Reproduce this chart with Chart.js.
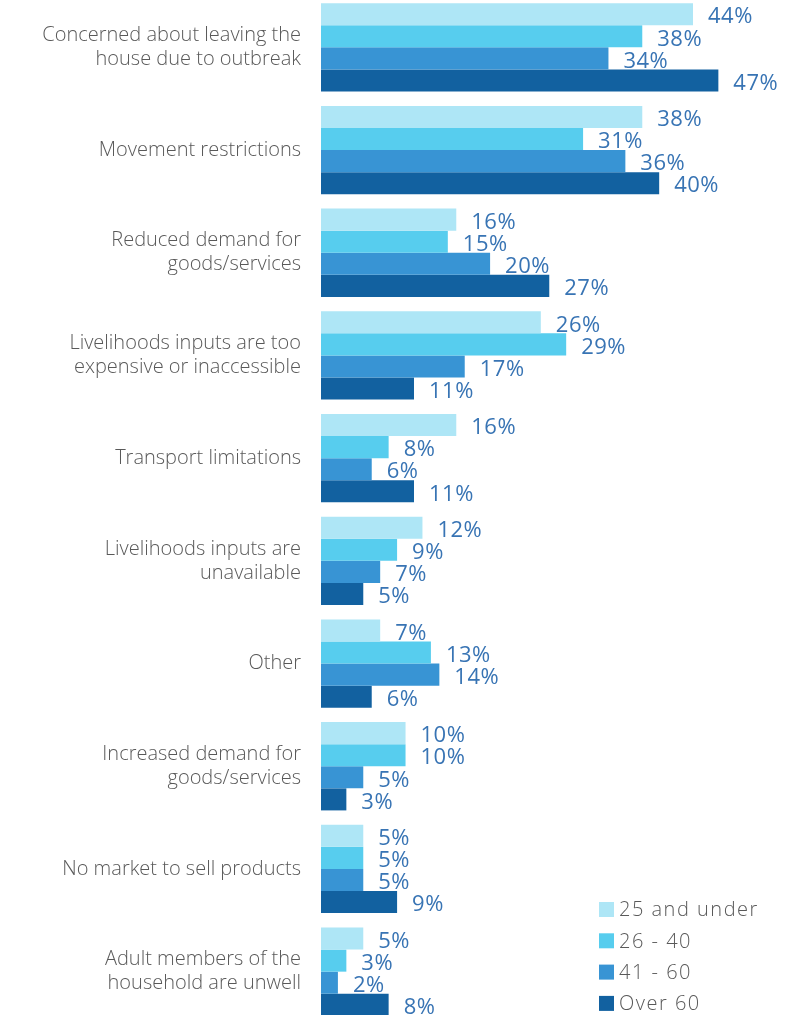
<!DOCTYPE html>
<html>
<head>
<meta charset="utf-8">
<script src="https://cdn.jsdelivr.net/npm/chart.js@4/dist/chart.umd.min.js"></script>
<style>
  html, body { margin: 0; padding: 0; background: #fff; overflow: hidden; }
  #wrap { position: absolute; left: 0; top: -4px; width: 798px; height: 1027px; }
</style>
</head>
<body>
<div id="wrap"><canvas id="chart"></canvas></div>
<script>
var categories = [
    ['Concerned about leaving the', 'house due to outbreak'],
    'Movement restrictions',
    ['Reduced demand for', 'goods/services'],
    ['Livelihoods inputs are too', 'expensive or inaccessible'],
    'Transport limitations',
    ['Livelihoods inputs are', 'unavailable'],
    'Other',
    ['Increased demand for', 'goods/services'],
    'No market to sell products',
    ['Adult members of the', 'household are unwell']
];

var seriesNames = ['25 and under', '26 - 40', '41 - 60', 'Over 60'];
var seriesColors = ['#aee6f6', '#57cdee', '#3894d4', '#1261a0'];

var age25Under = [44, 38, 16, 26, 16, 12, 7, 10, 5, 5];
var age26to40 = [38, 31, 15, 29, 8, 9, 13, 10, 5, 3];
var age41to60 = [34, 36, 20, 17, 6, 7, 14, 5, 5, 2];
var ageOver60 = [47, 40, 27, 11, 11, 5, 6, 3, 9, 8];

var seriesValues = [age25Under, age26to40, age41to60, ageOver60];

var labelFont = '"Open Sans", Lato, sans-serif';

// percentage text just past the end of each bar
var valueLabels = {
    id: 'valueLabels',
    afterDatasetsDraw: function (chart) {
        var ctx = chart.ctx;
        ctx.save();
        ctx.font = '22px ' + labelFont;
        ctx.letterSpacing = '0.5px';
        ctx.fillStyle = '#3874b4';
        ctx.textAlign = 'left';
        ctx.textBaseline = 'middle';
        chart.data.datasets.forEach(function (ds, i) {
            var meta = chart.getDatasetMeta(i);
            meta.data.forEach(function (bar, j) {
                ctx.fillText(ds.data[j] + '%', bar.x + 15, bar.y + 3);
            });
        });
        ctx.restore();
    }
};

// legend sits over the empty lower right corner of the plot
var cornerLegend = {
    id: 'cornerLegend',
    afterDraw: function (chart) {
        var ctx = chart.ctx;
        ctx.save();
        ctx.font = '300 20px ' + labelFont;
        ctx.letterSpacing = '1.5px';
        ctx.textBaseline = 'middle';
        ctx.textAlign = 'left';
        chart.data.datasets.forEach(function (ds, i) {
            var y = 913.5 + i * 31.3;
            ctx.fillStyle = ds.backgroundColor;
            ctx.fillRect(599, y - 7.5, 15, 15);
            ctx.fillStyle = '#595959';
            ctx.fillText(ds.label, 619, y + 1);
        });
        ctx.restore();
    }
};

var datasets = seriesNames.map(function (name, i) {
    return {
        label: name,
        data: seriesValues[i],
        backgroundColor: seriesColors[i],
        borderWidth: 0,
        categoryPercentage: 0.86,
        barPercentage: 1.0
    };
});

new Chart(document.getElementById('chart').getContext('2d'), {
    type: 'bar',
    data: { labels: categories, datasets: datasets },
    options: {
        indexAxis: 'y',
        responsive: true,
        maintainAspectRatio: false,
        animation: false,
        layout: { padding: { top: 0, bottom: 0, left: 0, right: 12 } },
        plugins: {
            legend: { display: false },
            tooltip: { enabled: false }
        },
        scales: {
            x: {
                display: false,
                min: 0,
                max: 55
            },
            y: {
                afterFit: function (scale) {
                    scale.width = 321;
                    scale.paddingTop = 0;
                    scale.paddingBottom = 0;
                },
                grid: { display: false, drawTicks: false },
                border: { display: false },
                ticks: {
                    color: '#595959',
                    padding: 20,
                    font: { family: labelFont, size: 20, weight: '300', lineHeight: 1.2 }
                }
            }
        }
    },
    plugins: [valueLabels, cornerLegend]
});
</script>
</body>
</html>
